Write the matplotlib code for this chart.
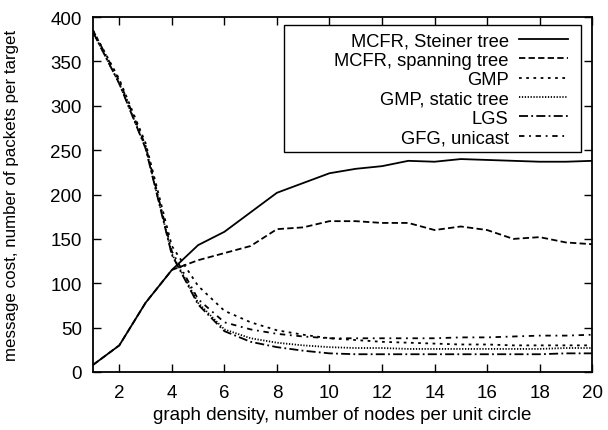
import matplotlib
matplotlib.use("Agg")
import matplotlib.pyplot as plt
from matplotlib.patches import Rectangle

plt.rcParams['font.family'] = ['Liberation Sans', 'DejaVu Sans']

density = list(range(1, 21))
steiner = [8, 30, 78, 115, 143, 158, 180, 202, 213, 224, 229, 232, 238, 237, 240, 239, 238, 237, 237, 238]
spanning = [8, 30, 78, 115, 126, 134, 142, 161, 163, 170, 170, 168, 168, 160, 164, 160, 150, 152, 146, 144]
gmp = [385, 330, 258, 142, 97, 69, 56, 47, 42, 38, 36, 34, 33, 32, 31, 31, 30, 30, 30, 30]
gmp_static = [383, 325, 253, 133, 78, 48, 38, 33, 30, 28, 27, 27, 26, 26, 26, 26, 26, 26, 27, 27]
lgs = [383, 325, 252, 132, 76, 46, 34, 28, 24, 21, 20, 20, 20, 20, 20, 20, 20, 20, 21, 21]
gfg = [385, 328, 255, 136, 82, 56, 48, 43, 40, 38, 38, 38, 38, 38, 39, 39, 40, 41, 41, 42]

labels = ["MCFR, Steiner tree", "MCFR, spanning tree", "GMP", "GMP, static tree", "LGS", "GFG, unicast"]
xticks = [2, 4, 6, 8, 10, 12, 14, 16, 18, 20]
yticks = [0, 50, 100, 150, 200, 250, 300, 350, 400]

fig = plt.figure(figsize=(6.08, 4.31), dpi=100)
ax = fig.add_axes([0.153, 0.1346, 0.821, 0.8234])

lw = 1.3
ax.plot(density, steiner, color='black', lw=lw, linestyle='-', label=labels[0])
ax.plot(density, spanning, color='black', lw=lw, dashes=(3.5, 1.8), label=labels[1])
ax.plot(density, gmp, color='black', lw=lw, dashes=(1.5, 2.5), label=labels[2])
ax.plot(density, gmp_static, color='black', lw=lw, dashes=(0.7, 0.9), label=labels[3])
ax.plot(density, lgs, color='black', lw=lw, dashes=(5, 1.8, 1, 1.8), label=labels[4])
ax.plot(density, gfg, color='black', lw=lw, dashes=(3, 2.6, 1, 2.6), label=labels[5])

ax.set_xlim(1, 20)
ax.set_ylim(0, 400)
ax.set_xticks(xticks)
ax.set_yticks(yticks)
ax.tick_params(direction='in', length=6, width=1, top=True, right=True, labelsize=13.5)
ax.tick_params(axis='y', pad=8)
ax.tick_params(axis='x', pad=9)
for s in ax.spines.values():
    s.set_linewidth(1.3)

ax.set_xlabel("graph density, number of nodes per unit circle", fontsize=13.5)
ax.set_ylabel("message cost, number of packets per target", fontsize=12.2)
ax.xaxis.set_label_coords(0.5, -0.097)
ax.yaxis.set_label_coords(-0.148, 0.5)

# legend frame (gnuplot-style wide box)
box = Rectangle((0.383, 0.620), 0.978 - 0.383, 0.977 - 0.620, transform=ax.transAxes,
                facecolor='white', edgecolor='black', linewidth=1.0, zorder=4)
ax.add_patch(box)

leg = ax.legend(loc='upper right', bbox_to_anchor=(0.952, 0.957), borderaxespad=0,
                markerfirst=False, fontsize=13.2, handlelength=2.7,
                labelspacing=0.13, handletextpad=0.55, borderpad=0.0,
                frameon=False)
leg.set_zorder(5)

fig.savefig("out.png", dpi=100)
